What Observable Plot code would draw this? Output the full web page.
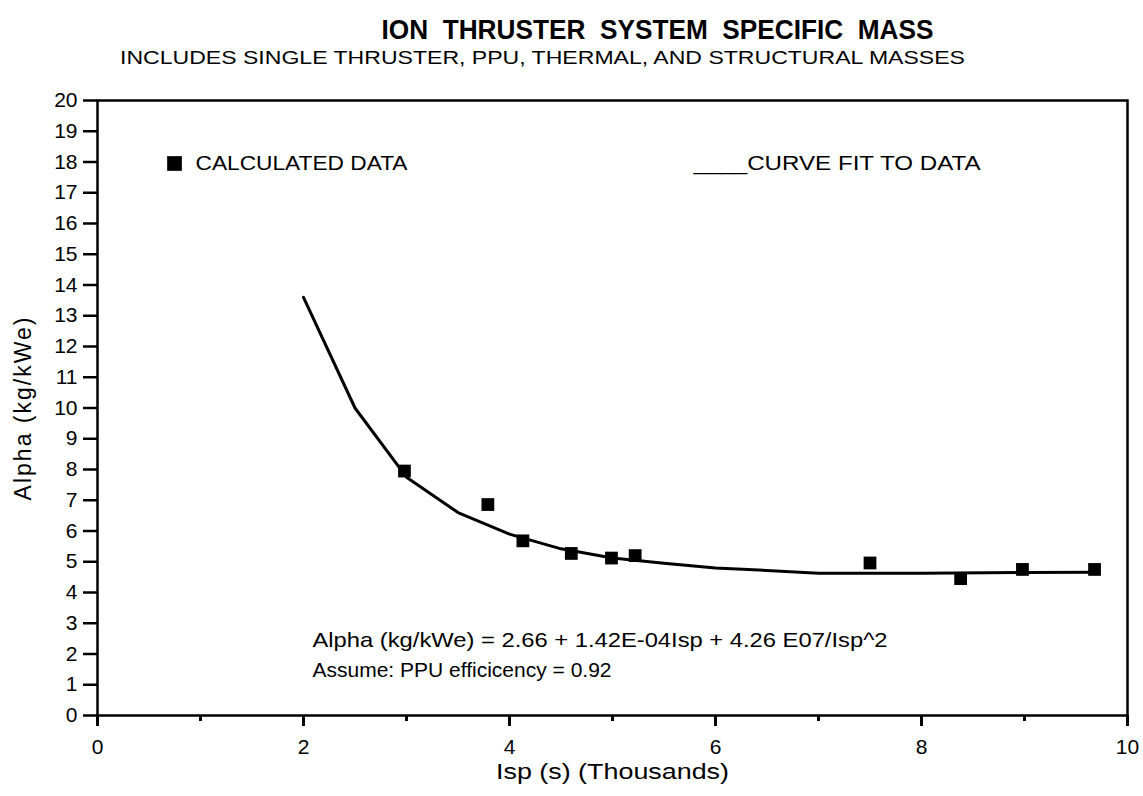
<!DOCTYPE html>
<html>
<head>
<meta charset="utf-8">
<script src="https://cdn.jsdelivr.net/npm/d3@7"></script>
<script src="https://cdn.jsdelivr.net/npm/@observablehq/plot@0.6"></script>
<style>
  html, body { margin: 0; padding: 0; background: #fff; }
  svg { display: block; }
</style>
</head>
<body>
<div id="chart"></div>
<script>
// Calculated data (Isp in thousands of seconds, Alpha in kg/kWe)
const dataIsp   = [2.98, 3.79, 4.13, 4.60, 4.99, 5.22, 7.50, 8.38, 8.98, 9.68];
const dataAlpha = [7.95, 6.86, 5.68, 5.27, 5.12, 5.20, 4.96, 4.45, 4.75, 4.75];

// Curve fit as drawn
const fitIsp   = [2.0, 2.5, 3.0, 3.5, 4.0, 4.5, 5.0, 5.5, 6.0, 7.0, 8.0, 9.0, 9.7];
const fitAlpha = [13.6, 10.0, 7.75, 6.6, 5.9, 5.42, 5.12, 4.95, 4.8, 4.63, 4.63, 4.65, 4.66];

// Ticks
const yTicks = d3.range(0, 21);
const xMajorTicks = [0, 2, 4, 6, 8, 10];
const xMinorTicks = [1, 3, 5, 7, 9];

// Texts
const title = "ION  THRUSTER  SYSTEM  SPECIFIC  MASS";
const subtitle = "INCLUDES SINGLE THRUSTER, PPU, THERMAL, AND STRUCTURAL MASSES";
const xLabel = "Isp (s) (Thousands)";
const yLabel = "Alpha (kg/kWe)";
const legendPoints = "CALCULATED DATA";
const legendCurve = "____CURVE FIT TO DATA";
const equation = "Alpha (kg/kWe) = 2.66 + 1.42E-04Isp + 4.26 E07/Isp^2";
const assumption = "Assume: PPU efficicency = 0.92";

const points = dataIsp.map((x, i) => ({x, y: dataAlpha[i]}));
const curve = fitIsp.map((x, i) => ({x, y: fitAlpha[i]}));

const font = "Liberation Sans, Arial, Helvetica, sans-serif";
const mid = {lineAnchor: "middle"};

const chart = Plot.plot({
  width: 1143,
  height: 796,
  marginLeft: 97,
  marginRight: 16,
  marginTop: 100,
  marginBottom: 81,
  style: {fontFamily: font, color: "black", background: "white"},
  x: {domain: [0, 10], axis: null},
  y: {domain: [0, 20], axis: null},
  marks: [
    Plot.frame({stroke: "black", strokeWidth: 2.5}),
    Plot.axisY({ticks: yTicks, tickSize: 14, tickPadding: 6, strokeWidth: 2.5, fontSize: 21, label: null, tickFormat: d3.format("d")}),
    Plot.axisX({ticks: xMajorTicks, tickSize: 11, tickPadding: 13, strokeWidth: 3, fontSize: 21, label: null, tickFormat: d3.format("d")}),
    Plot.axisX({ticks: xMinorTicks, tickSize: 6, strokeWidth: 3, text: null, label: null}),
    Plot.line(curve, {x: "x", y: "y", stroke: "black", strokeWidth: 3}),
    Plot.dot(points, {x: "x", y: "y", symbol: "square", r: 7.2, fill: "black", stroke: "none"}),
    // Titles
    Plot.text([title], {...mid, text: d => d, frameAnchor: "top", dx: 45, dy: -70, fontSize: 27, fontWeight: "bold", className: "t-title"}),
    Plot.text([subtitle], {...mid, text: d => d, frameAnchor: "top", dx: -70, dy: -43, fontSize: 19, className: "t-sub"}),
    // Axis labels
    Plot.text([yLabel], {...mid, text: d => d, frameAnchor: "left", textAnchor: "middle", dx: -74, rotate: -90, fontSize: 23, className: "t-ylab"}),
    Plot.text([xLabel], {...mid, text: d => d, frameAnchor: "bottom", textAnchor: "middle", dy: 56, fontSize: 22, className: "t-xlab"}),
    // Legend
    Plot.dot([legendPoints], {frameAnchor: "top-left", dx: 77, dy: 63, symbol: "square", r: 8.3, fill: "black", stroke: "none"}),
    Plot.text([legendPoints], {...mid, text: d => d, frameAnchor: "top-left", dx: 98, dy: 63, textAnchor: "start", fontSize: 20, className: "t-leg1"}),
    Plot.text([legendCurve], {...mid, text: d => d, frameAnchor: "top-left", dx: 596, dy: 63, textAnchor: "start", fontSize: 20, className: "t-leg2"}),
    // Annotations
    Plot.text([equation], {...mid, text: d => d, frameAnchor: "bottom-left", dx: 215, dy: -75, textAnchor: "start", fontSize: 21, className: "t-eq"}),
    Plot.text([assumption], {...mid, text: d => d, frameAnchor: "bottom-left", dx: 215, dy: -45, textAnchor: "start", fontSize: 21, className: "t-as"})
  ]
});

// Stretch texts to the widths seen in the reference
const widths = {"t-title": 552, "t-sub": 845, "t-leg1": 212, "t-leg2": 287, "t-eq": 575, "t-xlab": 233};
for (const [cls, w] of Object.entries(widths)) {
  d3.select(chart).selectAll(`.${cls} text`).attr("textLength", w).attr("lengthAdjust", "spacingAndGlyphs");
}
d3.select(chart).selectAll(".t-ylab text").style("letter-spacing", "2px");

document.getElementById("chart").appendChild(chart);
</script>
</body>
</html>
